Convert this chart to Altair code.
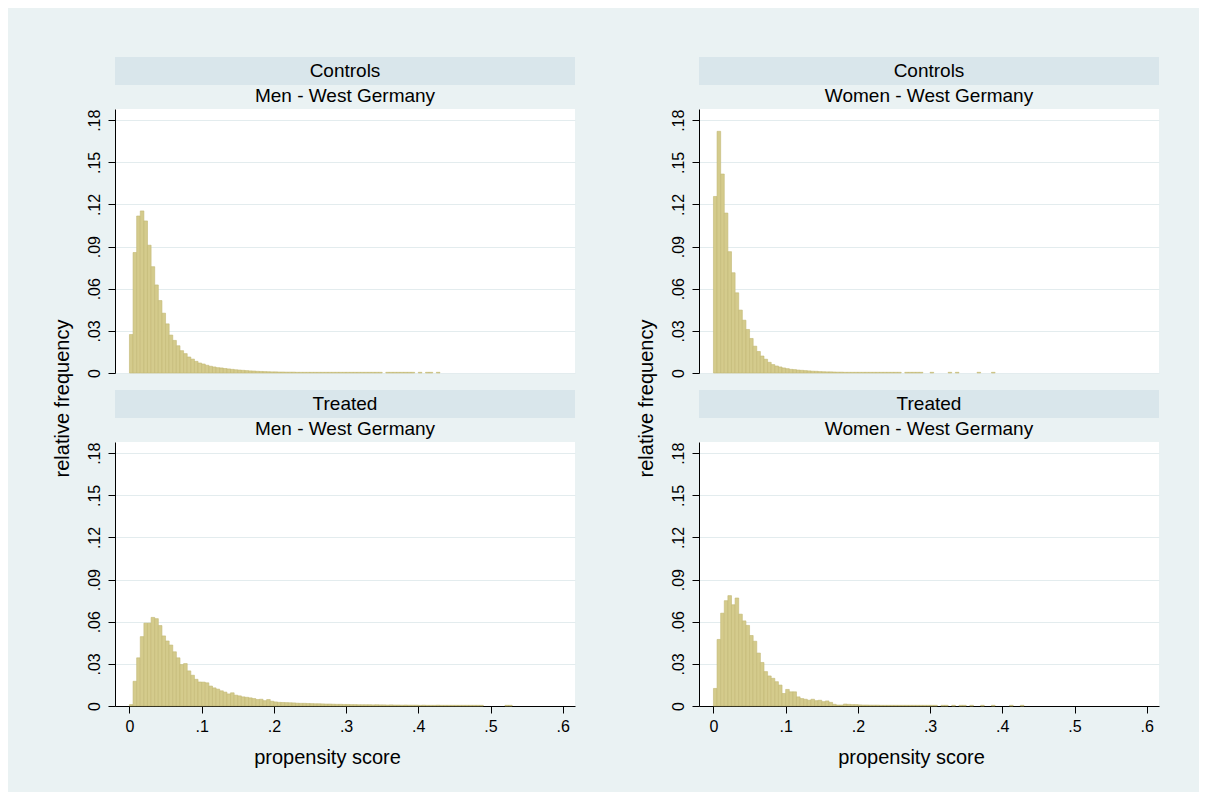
import altair as alt
import pandas as pd

BIN_WIDTH = 0.005

# relative frequency per bin of width 0.005 starting at 0
controls_men = [
    0.0274, 0.0858, 0.1118, 0.1154, 0.1083, 0.0910, 0.0757, 0.0627, 0.0516, 0.0426,
    0.0350, 0.0270, 0.0232, 0.0194, 0.0159, 0.0138, 0.0114, 0.0099, 0.0083, 0.0071,
    0.0064, 0.0055, 0.0048, 0.0043, 0.0038, 0.0036, 0.0032, 0.0029, 0.0026, 0.0023,
    0.0021, 0.0019, 0.0017, 0.0015, 0.0014, 0.0012, 0.0011, 0.0010, 0.0009, 0.0008,
    0.0008, 0.0007, 0.0007, 0.0006, 0.0006, 0.0006, 0.0005, 0.0005, 0.0005, 0.0005,
    0.0005, 0.0005, 0.0005, 0.0005, 0.0005, 0.0005, 0.0005, 0.0005, 0.0005, 0.0005,
    0.0005, 0.0005, 0.0005, 0.0005, 0.0005, 0.0005, 0.0005, 0.0005, 0.0005, 0.0005,
    0.0, 0.0005, 0.0005, 0.0005, 0.0005, 0.0005, 0.0005, 0.0005, 0.0005, 0.0,
    0.0005, 0.0, 0.0005, 0.0005, 0.0, 0.0005,
]

controls_women = [
    0.1257, 0.1721, 0.1417, 0.1139, 0.0864, 0.0714, 0.0571, 0.0448, 0.0376, 0.0310,
    0.0246, 0.0191, 0.0153, 0.0121, 0.0098, 0.0076, 0.0060, 0.0050, 0.0043, 0.0036,
    0.0031, 0.0026, 0.0024, 0.0021, 0.0019, 0.0017, 0.0015, 0.0013, 0.0012, 0.0010,
    0.0009, 0.0008, 0.0008, 0.0007, 0.0006, 0.0006, 0.0005, 0.0005, 0.0005, 0.0005,
    0.0005, 0.0005, 0.0005, 0.0005, 0.0005, 0.0005, 0.0005, 0.0005, 0.0005, 0.0005,
    0.0005, 0.0005, 0.0, 0.0005, 0.0005, 0.0005, 0.0005, 0.0005, 0.0, 0.0,
    0.0005, 0.0, 0.0, 0.0, 0.0, 0.0005, 0.0, 0.0005, 0.0, 0.0,
    0.0, 0.0, 0.0, 0.0005, 0.0, 0.0, 0.0, 0.0005,
]

treated_men = [
    0.0010, 0.0176, 0.0343, 0.0494, 0.0590, 0.0590, 0.0631, 0.0622, 0.0573, 0.0499,
    0.0463, 0.0434, 0.0386, 0.0343, 0.0295, 0.0302, 0.0250, 0.0219, 0.0190, 0.0171,
    0.0170, 0.0165, 0.0142, 0.0129, 0.0120, 0.0108, 0.0099, 0.0086, 0.0094, 0.0077,
    0.0072, 0.0065, 0.0062, 0.0058, 0.0053, 0.0046, 0.0048, 0.0038, 0.0046, 0.0034,
    0.0029, 0.0026, 0.0025, 0.0024, 0.0023, 0.0022, 0.0020, 0.0019, 0.0019, 0.0018,
    0.0017, 0.0016, 0.0016, 0.0015, 0.0014, 0.0014, 0.0013, 0.0012, 0.0012, 0.0011,
    0.0011, 0.0010, 0.0010, 0.0009, 0.0009, 0.0009, 0.0009, 0.0008, 0.0009, 0.0008,
    0.0008, 0.0007, 0.0008, 0.0007, 0.0007, 0.0006, 0.0007, 0.0006, 0.0006, 0.0006,
    0.0005, 0.0006, 0.0005, 0.0005, 0.0005, 0.0006, 0.0005, 0.0005, 0.0005, 0.0005,
    0.0005, 0.0005, 0.0005, 0.0005, 0.0005, 0.0005, 0.0005, 0.0005, 0.0, 0.0,
    0.0, 0.0, 0.0, 0.0, 0.0005, 0.0005,
]

treated_women = [
    0.0125, 0.0474, 0.0661, 0.0750, 0.0786, 0.0721, 0.0769, 0.0654, 0.0606, 0.0574,
    0.0502, 0.0461, 0.0377, 0.0310, 0.0245, 0.0214, 0.0197, 0.0173, 0.0149, 0.0089,
    0.0118, 0.0101, 0.0101, 0.0065, 0.0053, 0.0048, 0.0041, 0.0048, 0.0038, 0.0041,
    0.0031, 0.0036, 0.0026, 0.0012, 0.0007, 0.0007, 0.0014, 0.0012, 0.0010, 0.0010,
    0.0008, 0.0007, 0.0007, 0.0006, 0.0006, 0.0006, 0.0005, 0.0005, 0.0005, 0.0005,
    0.0005, 0.0005, 0.0005, 0.0005, 0.0005, 0.0005, 0.0005, 0.0005, 0.0005, 0.0005,
    0.0005, 0.0005, 0.0, 0.0005, 0.0005, 0.0, 0.0005, 0.0, 0.0005, 0.0005,
    0.0, 0.0005, 0.0, 0.0, 0.0005, 0.0, 0.0, 0.0005, 0.0, 0.0,
    0.0, 0.0, 0.0005, 0.0, 0.0, 0.0005,
]

group_titles = ["Controls", "Controls", "Treated", "Treated"]
sub_titles = ["Men - West Germany", "Women - West Germany",
              "Men - West Germany", "Women - West Germany"]

x_ticks = [0, 0.1, 0.2, 0.3, 0.4, 0.5, 0.6]
y_ticks = [0, 0.03, 0.06, 0.09, 0.12, 0.15, 0.18]

FONT = "Liberation Sans"
BAR_FILL = "#D4CB8C"
BAR_STROKE = "#C2B873"
BG = "#EAF2F3"
STRIP = "#D9E6EB"
W, H = 460, 264

LABEL_EXPR = "datum.value == 0 ? '0' : substring(format(datum.value, '.2~f'), 1)"


def panel(values, group, sub, bottom, show_ytitle):
    df = pd.DataFrame({
        "start": [i * BIN_WIDTH for i in range(len(values))],
        "freq": values,
    })
    df["end"] = df["start"] + BIN_WIDTH
    df = df[df["freq"] > 0]

    if bottom:
        x_axis = alt.Axis(values=x_ticks, labelExpr=LABEL_EXPR, grid=False,
                          tickSize=7, labelPadding=5, domainColor="black",
                          tickColor="black", title="propensity score",
                          titleX=212, titleY=51, titleAlign="center",
                          titleBaseline="middle")
    else:
        x_axis = None

    y_kwargs = dict(values=y_ticks, labelExpr=LABEL_EXPR, grid=True,
                    gridColor="#E3ECEE", tickSize=7, labelAngle=270,
                    labelAlign="center", labelBaseline="middle",
                    labelPadding=14, domainColor="black", tickColor="black")
    if show_ytitle:
        y_axis = alt.Axis(title="relative frequency", titleAngle=270,
                          titleX=-53, titleY=289, titleAlign="center",
                          titleBaseline="middle", **y_kwargs)
    else:
        y_axis = alt.Axis(title="", **y_kwargs)

    bars = alt.Chart(df).mark_rect(
        fill=BAR_FILL, stroke=BAR_STROKE, strokeWidth=0.6
    ).encode(
        x=alt.X("start:Q", scale=alt.Scale(domain=[-0.02, 0.617], nice=False, zero=False),
                axis=x_axis),
        x2="end:Q",
        y=alt.Y("freq:Q", scale=alt.Scale(domain=[0, 0.188], nice=False), axis=y_axis),
        y2=alt.datum(0),
    )

    lab = pd.DataFrame({"group": [group], "sub": [sub]})
    band = alt.Chart(lab).mark_rect(fill=STRIP).encode(
        x=alt.value(0), x2=alt.value(W), y=alt.value(-52), y2=alt.value(-24)
    )
    t1 = alt.Chart(lab).mark_text(font=FONT, fontSize=19, color="black",
                                  baseline="middle").encode(
        x=alt.value(W / 2), y=alt.value(-38), text="group:N"
    )
    t2 = alt.Chart(lab).mark_text(font=FONT, fontSize=19, color="black",
                                  baseline="middle").encode(
        x=alt.value(W / 2), y=alt.value(-13), text="sub:N"
    )
    return alt.layer(band, t1, t2, bars).properties(width=W, height=H)


p_cm = panel(controls_men, group_titles[0], sub_titles[0], False, True)
p_cw = panel(controls_women, group_titles[1], sub_titles[1], False, True)
p_tm = panel(treated_men, group_titles[2], sub_titles[2], True, False)
p_tw = panel(treated_women, group_titles[3], sub_titles[3], True, False)

chart = alt.concat(
    p_cm, p_cw, p_tm, p_tw, columns=2,
    spacing={"row": 69, "column": 124}, bounds="flush",
).properties(
    background=BG,
    padding={"left": 44, "top": 49, "right": 40, "bottom": 25},
).configure_view(
    fill="white", stroke=None
).configure_axis(
    labelFont=FONT, titleFont=FONT, labelFontSize=16, titleFontSize=20,
    labelColor="black", titleColor="black", titleFontWeight="normal",
)

chart.save("out.html", embed_options={"renderer": "svg", "actions": False})
